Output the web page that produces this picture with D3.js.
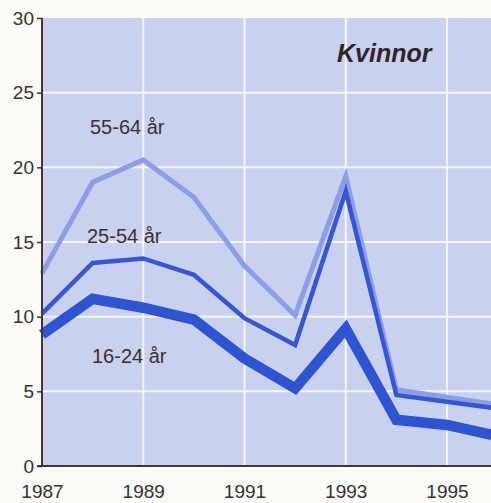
<!DOCTYPE html>
<html lang="sv">
<head>
<meta charset="UTF-8">
<title>Kvinnor</title>
<style>
    body { margin: 0; background: #fbfbf8; font-family: 'Liberation Sans', Arial, sans-serif; }
    svg { display: block; }
    .tick text { fill: #3a3034; }
</style>
<script src="https://d3js.org/d3.v7.min.js"></script>
</head>
<body>
<div id="chart"></div>
<script>
    const years = [1987, 1988, 1989, 1990, 1991, 1992, 1993, 1994, 1995, 1996];
    const age5564 = [12.9, 19.0, 20.5, 18.0, 13.4, 10.1, 19.4, 5.1, 4.6, 4.1];
    const age2554 = [10.2, 13.6, 13.9, 12.8, 9.9, 8.1, 18.4, 4.75, 4.3, 3.85];
    const age1624 = [8.8, 11.2, 10.6, 9.8, 7.2, 5.2, 9.2, 3.1, 2.75, 2.0];
    const xTicks = [1987, 1989, 1991, 1993, 1995];
    const yTicks = [0, 5, 10, 15, 20, 25, 30];

    const width = 491, height = 503;
    const x = d3.scaleLinear().domain([1987, 1995]).range([42, 447]);
    const y = d3.scaleLinear().domain([0, 30]).range([466, 18]);

    const svg = d3.select("#chart").append("svg")
        .attr("width", width)
        .attr("height", height);

    // plot background
    svg.append("rect")
        .attr("x", x(1987)).attr("y", y(30))
        .attr("width", width - x(1987)).attr("height", y(0) - y(30))
        .attr("fill", "#c9d1ee");

    // grid
    svg.selectAll(".hgrid").data(yTicks.filter(d => d > 0 && d < 30)).enter()
        .append("line")
        .attr("x1", x(1987)).attr("x2", width)
        .attr("y1", d => y(d)).attr("y2", d => y(d))
        .attr("stroke", "#f4f5fb").attr("stroke-width", 2);
    svg.selectAll(".vgrid").data(xTicks.filter(d => d > 1987)).enter()
        .append("line")
        .attr("x1", d => x(d)).attr("x2", d => x(d))
        .attr("y1", y(30)).attr("y2", y(0))
        .attr("stroke", "#f4f5fb").attr("stroke-width", 2);

    const line = d3.line().x((d, i) => x(years[i])).y(d => y(d)).curve(d3.curveLinear);

    const series = [
        { values: age5564, color: "#8b9ee6", w: 5 },
        { values: age2554, color: "#3557d4", w: 4.5 },
        { values: age1624, color: "#2f54d2", w: 10.5 }
    ];
    svg.selectAll(".serie").data(series).enter()
        .append("path")
        .attr("d", d => line(d.values))
        .attr("fill", "none")
        .attr("stroke", d => d.color)
        .attr("stroke-width", d => d.w)
        .attr("stroke-linejoin", "miter");

    // axes
    const yAxis = svg.append("g")
        .attr("transform", "translate(" + x(1987) + ",0)")
        .call(d3.axisLeft(y).tickValues(yTicks).tickSize(5).tickPadding(3));
    yAxis.select(".domain").remove();
    yAxis.selectAll(".tick line").attr("stroke", "#4a3038").attr("stroke-width", 1.5);
    yAxis.selectAll(".tick text").attr("font-size", 19).attr("font-family", "Liberation Sans, Arial, sans-serif");

    const xAxis = svg.append("g")
        .attr("transform", "translate(0," + y(0) + ")")
        .call(d3.axisBottom(x).tickValues(xTicks).tickFormat(d3.format("d")).tickSize(0).tickPadding(19));
    xAxis.select(".domain").remove();
    xAxis.selectAll(".tick text").attr("font-size", 19).attr("font-family", "Liberation Sans, Arial, sans-serif");

    svg.append("line")
        .attr("x1", x(1987)).attr("x2", x(1987))
        .attr("y1", y(30)).attr("y2", y(0) + 1)
        .attr("stroke", "#4a3038").attr("stroke-width", 2);
    svg.append("line")
        .attr("x1", x(1987) - 5).attr("x2", width)
        .attr("y1", y(0)).attr("y2", y(0))
        .attr("stroke", "#4a3038").attr("stroke-width", 2);

    // labels
    const labels = [
        { text: "55-64 år", x: 90, y: 134 },
        { text: "25-54 år", x: 87, y: 243 },
        { text: "16-24 år", x: 92, y: 363 }
    ];
    svg.selectAll(".lbl").data(labels).enter()
        .append("text")
        .attr("x", d => d.x).attr("y", d => d.y)
        .attr("font-size", 20)
        .attr("fill", "#3a3034")
        .text(d => d.text);

    svg.append("text")
        .attr("x", 337).attr("y", 62)
        .attr("font-size", 25)
        .attr("font-weight", "bold")
        .attr("font-style", "italic")
        .attr("fill", "#2e2628")
        .text("Kvinnor");
</script>
</body>
</html>
